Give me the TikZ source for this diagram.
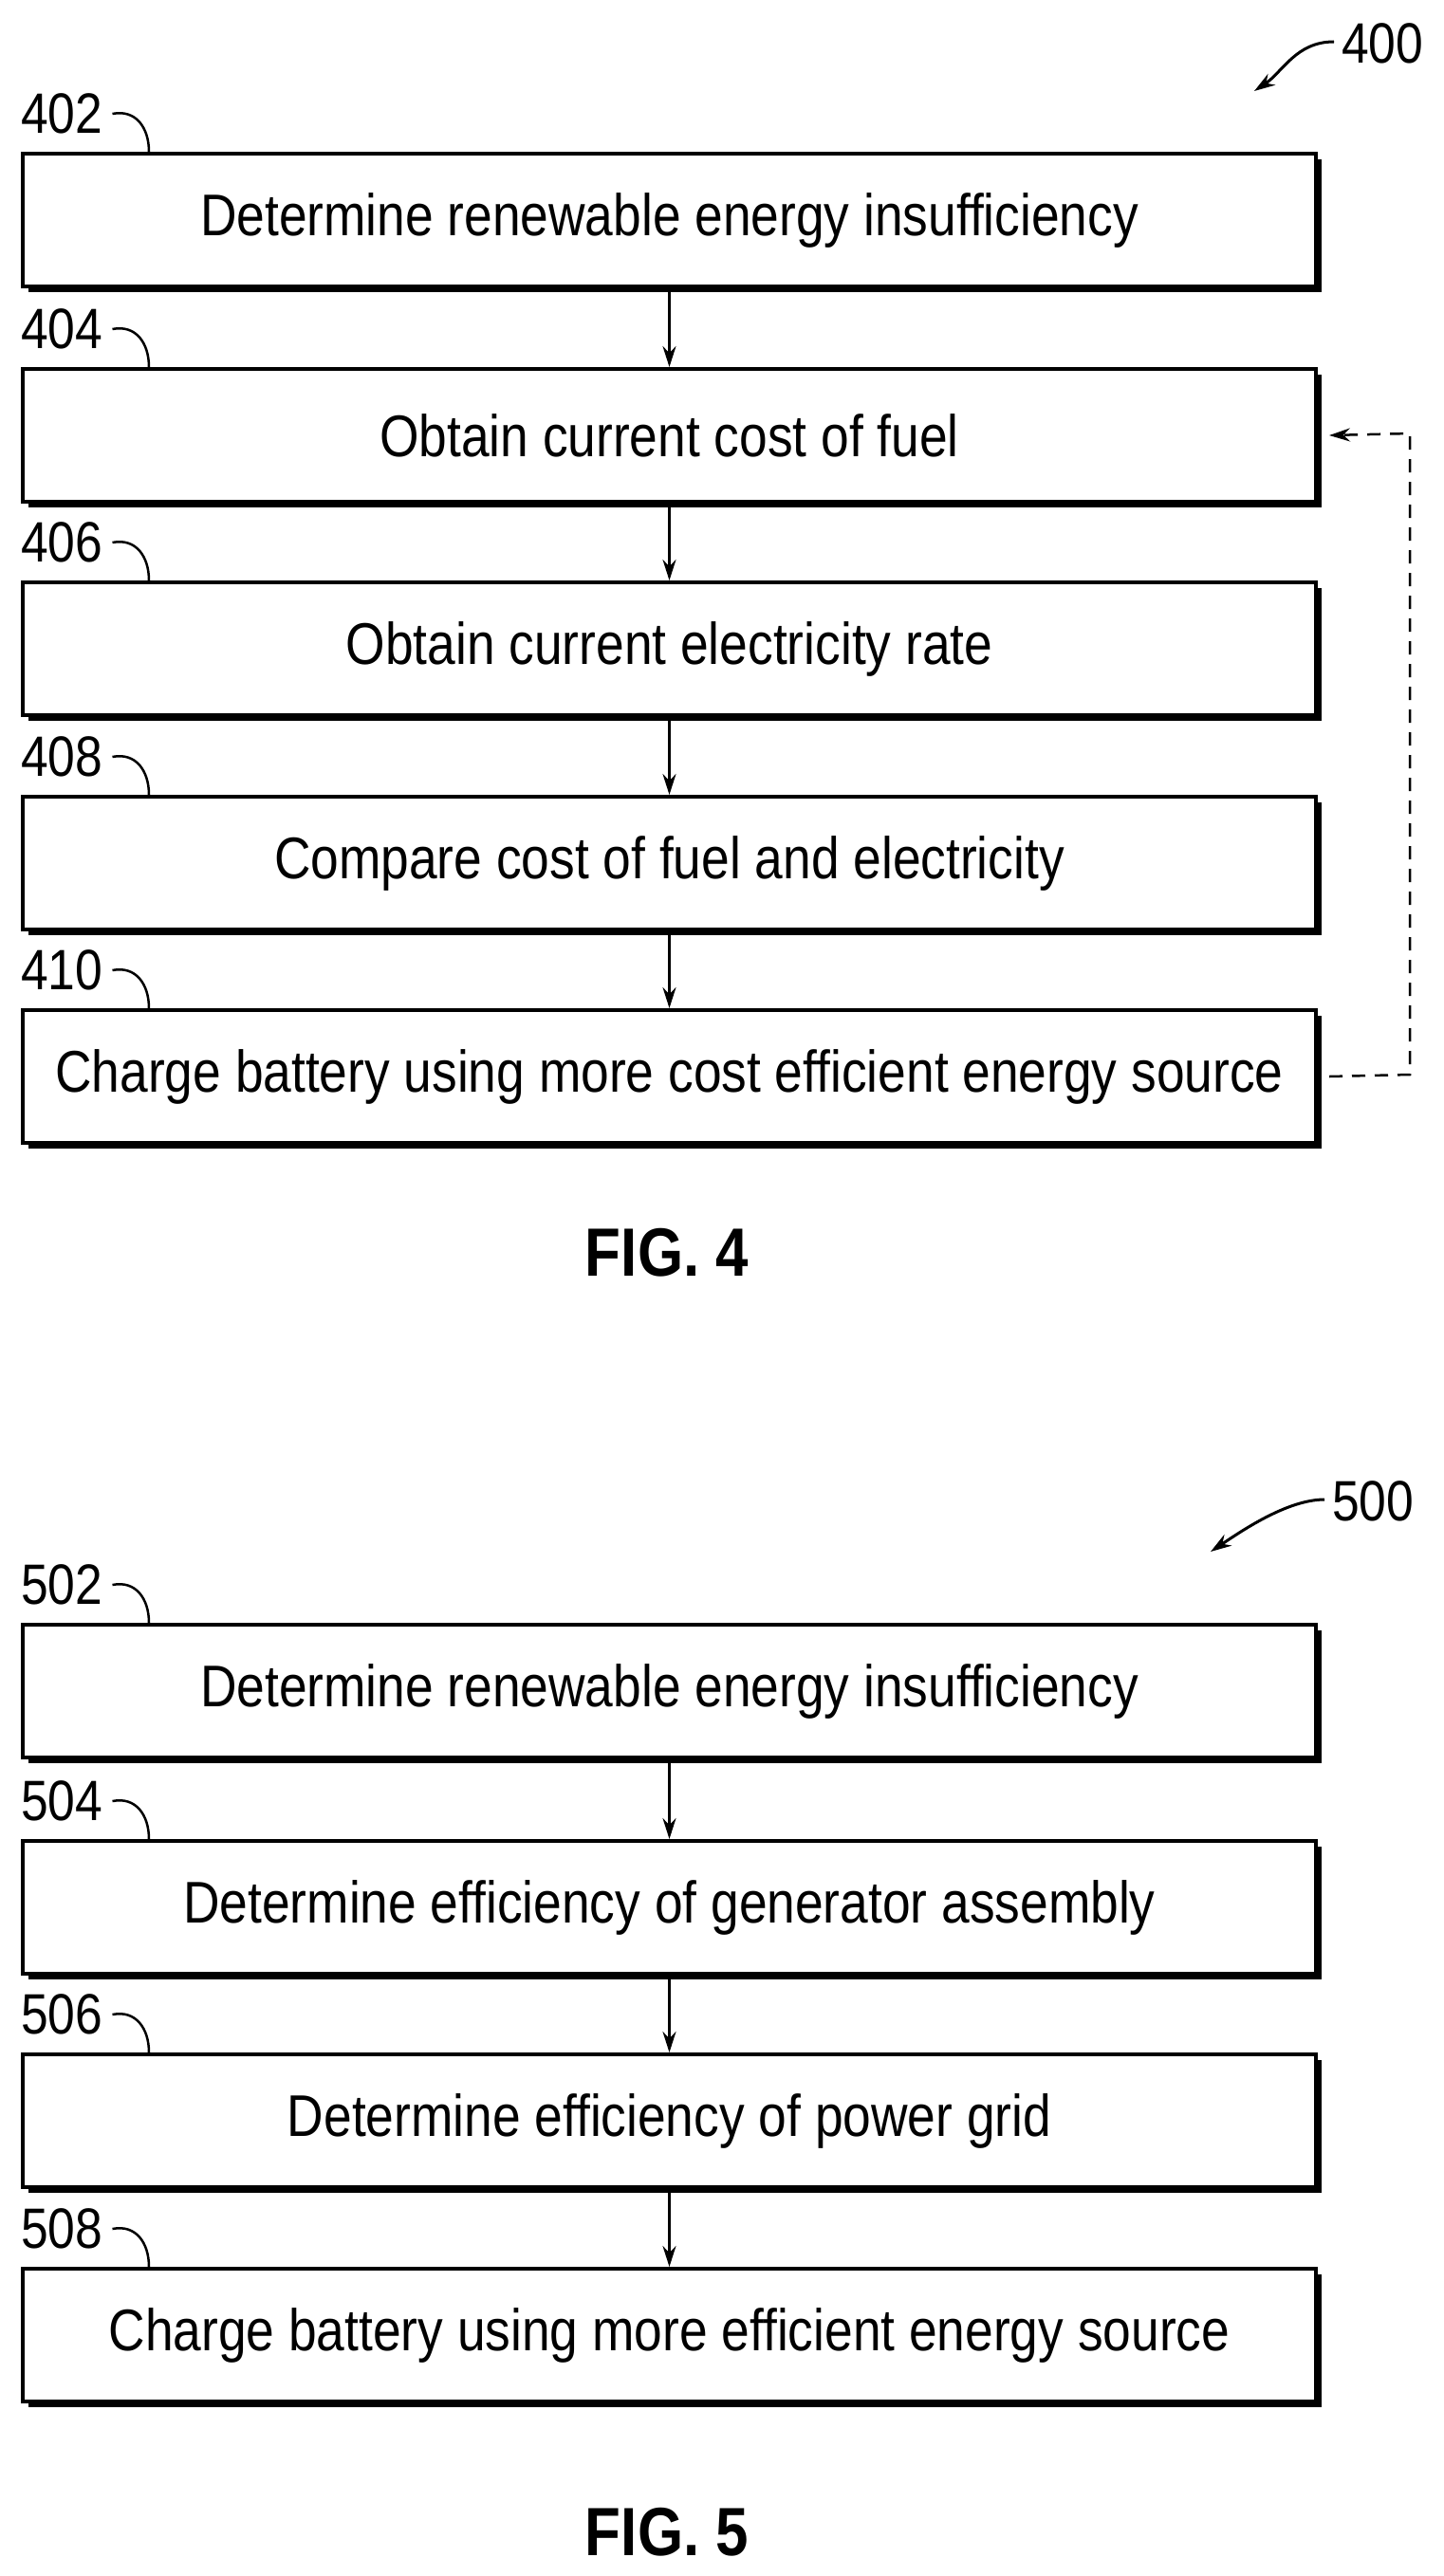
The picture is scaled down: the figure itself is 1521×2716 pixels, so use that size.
\documentclass[tikz,border=0pt]{standalone}
\usepackage{fontspec}
\setmainfont[FakeStretch=0.86]{Liberation Sans}
\usetikzlibrary{arrows.meta}
\begin{document}
\begin{tikzpicture}[x=1pt,y=-1pt,
  box/.style={draw,line width=4pt,minimum width=1363pt,minimum height=140pt,anchor=north west,inner sep=0pt,font=\fontsize{62}{70}\selectfont},
  lbl/.style={font=\fontsize{60}{66}\selectfont,anchor=west,inner sep=0pt},
  fig/.style={font=\bfseries\fontsize{72}{80}\selectfont},
  arr/.style={line width=2.5pt,-{Stealth[length=22pt,width=14pt]}}]
\useasboundingbox (0,0) rectangle (1521,2716);
\newcommand{\mybox}[4]{%
  \fill (#2+8,#3+8) rectangle (#2+1371,#3+148);
  \node[box,fill=white] (#1) at (#2,#3) {#4};
}
\newcommand{\mylabel}[3]{%
  \node[lbl] (#1) at (22,#2-40) {#3};
  \draw[line width=2.5pt] (#1.east)++(10,0) .. controls +(25,-5) and +(0,-25) .. (157,#2);
}
% FIG 4
\mybox{b402}{22}{160}{Determine renewable energy insufficiency}
\mybox{b404}{22}{387}{Obtain current cost of fuel}
\mybox{b406}{22}{612}{Obtain current electricity rate}
\mybox{b408}{22}{838}{Compare cost of fuel and electricity}
\mybox{b410}{22}{1063}{Charge battery using more cost efficient energy source}
\mylabel{l402}{160}{402}
\mylabel{l404}{387}{404}
\mylabel{l406}{612}{406}
\mylabel{l408}{838}{408}
\mylabel{l410}{1063}{410}
\draw[arr] (b402.south) -- (b404.north);
\draw[arr] (b404.south) -- (b406.north);
\draw[arr] (b406.south) -- (b408.north);
\draw[arr] (b408.south) -- (b410.north);
\coordinate (d1) at (1486,1133);
\coordinate (d2) at (1486,457);
\draw[arr,dashed,dash pattern=on 14pt off 10pt] (b410.east)++(12,0) -- (d1) -- (d2) -- ([xshift=12pt]b404.east);
\node[lbl] (n400) at (1414,46) {400};
\draw[arr,line width=3pt] (n400.west)++(-8,-2) .. controls +(-40,0) and +(30,-20) .. (1322,96);
\node[fig] (f4) at (703,1321) {FIG. 4};
% FIG 5
\mybox{b502}{22}{1711}{Determine renewable energy insufficiency}
\mybox{b504}{22}{1939}{Determine efficiency of generator assembly}
\mybox{b506}{22}{2164}{Determine efficiency of power grid}
\mybox{b508}{22}{2390}{Charge battery using more efficient energy source}
\mylabel{l502}{1711}{502}
\mylabel{l504}{1939}{504}
\mylabel{l506}{2164}{506}
\mylabel{l508}{2390}{508}
\draw[arr] (b502.south) -- (b504.north);
\draw[arr] (b504.south) -- (b506.north);
\draw[arr] (b506.south) -- (b508.north);
\node[lbl] (n500) at (1404,1583) {500};
\draw[arr,line width=3pt] (n500.west)++(-8,-2) .. controls +(-40,0) and +(30,-20) .. (1276,1636);
\node[fig] (f5) at (703,2670) {FIG. 5};
\end{tikzpicture}
\end{document}
